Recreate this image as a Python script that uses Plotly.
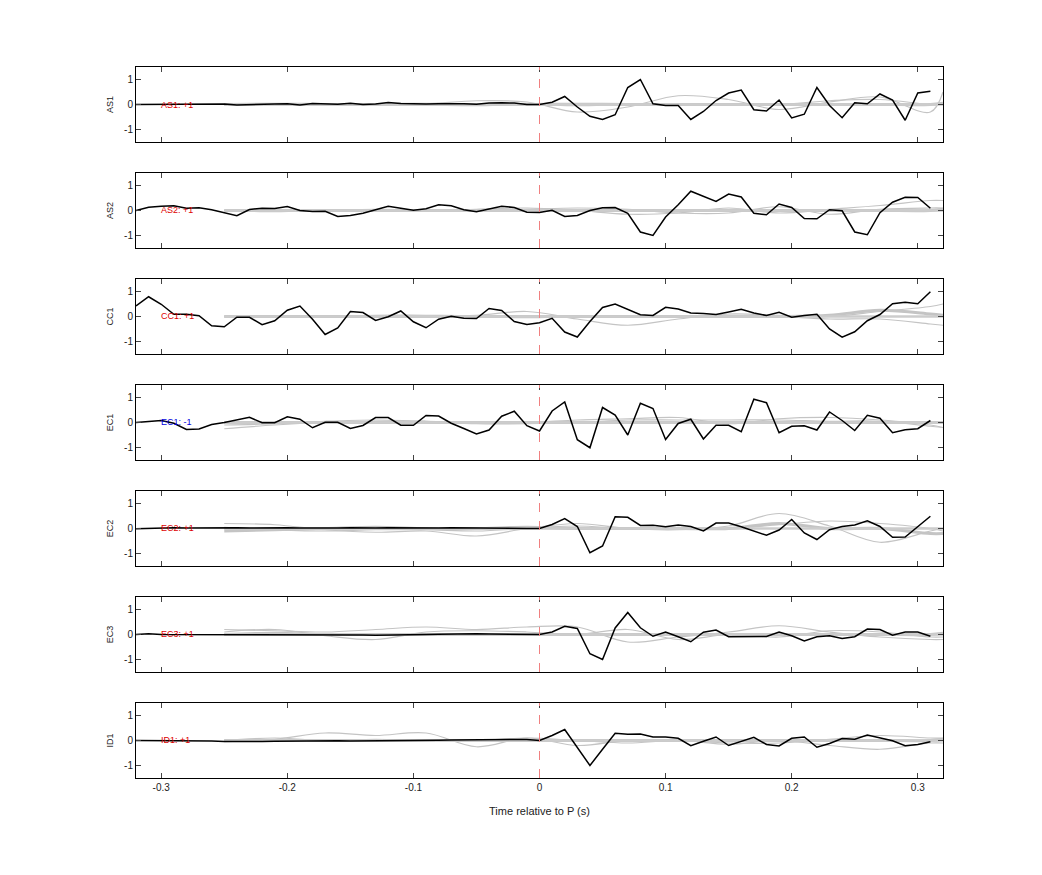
import numpy as np
import plotly.graph_objects as go
from plotly.subplots import make_subplots

stations = ["AS1", "AS2", "CC1", "EC1", "EC2", "EC3", "ID1"]
polarity = ["+1", "+1", "+1", "-1", "+1", "+1", "+1"]
t = [round(-0.32 + 0.01 * k, 2) for k in range(64)]

as1 = [0, 0, .03, .03, .03, .03, .02, .02, -.02, 0, .01, .02, .03, -.02, .04, .03, .01, .05, 0, .02, .08, .04, .02, .02, .03, .04, .03, .01, .06, .07, .06, 0,
       0, .09, .32, -.1, -.47, -.6, -.41, .68, 1.0, .03, -.04, -.04, -.6, -.28, .16, .46, .58, -.21, -.26, .18, -.54, -.39, .68, -.04, -.53, .07, .03, .42, .18, -.63, .46, .53]
as2 = [0, .13, .17, .19, .09, .11, .03, -.08, -.21, .04, .09, .08, .16, 0, -.04, -.03, -.24, -.20, -.11, .03, .17, .09, .01, .07, .23, .19, .03, -.05, .05, .17, .12, -.07,
       -.08, .01, -.24, -.20, 0, .11, .12, -.11, -.86, -1.0, -.26, .23, .77, .57, .36, .66, .54, -.11, -.17, .26, .12, -.32, -.33, .03, -.01, -.86, -.97, -.09, .33, .53, .52, .09]
cc1 = [.42, .79, .49, .09, .09, .03, -.37, -.41, -.03, -.03, -.33, -.17, .25, .42, -.11, -.72, -.46, .2, .16, -.16, -.01, .22, -.21, -.45, -.11, .01, -.07, -.08, .32, .24, -.2, -.32,
       -.25, -.07, -.62, -.82, -.2, .36, .5, .3, .07, .04, .37, .3, .14, .12, .08, .18, .29, .14, .04, .17, -.03, .04, .09, -.5, -.83, -.61, -.17, .08, .51, .57, .51, .99]
ec1 = [0, .04, .08, -.03, -.28, -.26, -.08, 0, .11, .21, -.01, -.01, .23, .13, -.21, .01, .01, -.24, -.12, .2, .2, -.11, -.11, .28, .26, -.03, -.24, -.46, -.3, .25, .45, -.13,
       -.34, .46, .82, -.69, -1.01, .6, .3, -.5, .77, .56, -.68, -.04, .13, -.66, -.11, -.11, -.37, .93, .79, -.41, -.15, -.13, -.3, .42, .08, -.32, .29, .17, -.41, -.29, -.25, .08]
ec2 = [-.01, 0, .04, .03, .02, .03, .04, .04, .03, .02, .03, .04, .03, .02, .01, .02, .02, .03, .01, .02, .03, .02, .01, 0, .02, .03, .02, .01, 0, .01, .01, 0,
       0, .16, .4, .08, -.97, -.7, .47, .45, .12, .13, .07, .14, .08, -.1, .22, .22, .07, -.1, -.27, -.06, .36, -.18, -.44, -.05, .08, .14, .31, .08, -.35, -.34, .08, .49]
ec3 = [0, .03, 0, 0, .01, 0, -.01, -.02, -.02, -.02, -.02, -.01, -.01, -.02, -.02, -.02, -.01, -.01, -.02, -.03, -.03, -.02, -.01, 0, .01, .02, .03, .03, .02, .01, -.01, -.01,
       0, .1, .33, .24, -.77, -1.0, .26, .88, .27, -.07, .1, -.09, -.29, .09, .18, -.09, -.09, -.08, -.08, .1, -.05, -.26, -.09, -.05, -.16, -.09, .22, .2, -.03, .1, .1, -.07]
id1 = [0, 0, 0, 0, .01, 0, -.02, -.04, -.05, -.05, -.04, -.03, -.02, -.02, -.01, -.01, -.01, -.02, -.02, -.01, -.01, -.01, -.01, -.01, .01, .02, .02, .01, .02, .03, .04, .04,
       0, .2, .44, -.29, -1.0, -.35, .29, .25, .26, .14, .14, .09, -.21, -.03, .14, -.2, -.03, .13, -.16, -.22, .09, .14, -.27, -.12, .08, .05, .22, .1, -.01, -.21, -.16, -.05]
black = [as1, as2, cc1, ec1, ec2, ec3, id1]

tg = [-0.25, -0.21, -0.17, -0.13, -0.09, -0.05, -0.01, 0.03, 0.07, 0.11, 0.15, 0.19, 0.23, 0.27, 0.31, 0.32]
gray = [
    [[0, 0, 0, 0, .02, .15, .1, -.3, -.1, .35, .2, -.2, .1, .3, -.3, .5],
     [0, 0, -.02, -.03, -.03, -.05, 0, -.05, 0, 0, 0, 0, .15, .2, 0, 0],
     [0, .01, 0, 0, .01, 0, 0, .01, 0, 0, 0, 0, 0, 0, 0, .05]],
    [[0, 0, 0, 0, 0, .05, .1, 0, -.15, -.1, .1, -.1, .05, .2, .4, .4],
     [0, -.05, 0, .05, .02, 0, .05, .1, .05, -.1, -.1, .15, -.15, .05, .1, .1],
     [0, 0, 0, 0, 0, 0, 0, 0, 0, 0, 0, 0, 0, 0, 0, .05]],
    [[0, 0, 0, .05, .05, .05, .2, -.1, -.35, -.1, .1, .05, 0, .2, .4, .5],
     [0, 0, 0, 0, 0, 0, -.05, 0, 0, 0, .05, 0, -.1, -.1, -.3, -.35],
     [0, 0, 0, 0, 0, 0, 0, 0, 0, 0, 0, 0, .05, .25, .1, .05]],
    [[-.25, -.1, 0, .05, .05, 0, 0, .1, .15, .2, -.05, .15, .2, .1, -.1, -.2],
     [-.1, -.05, .05, .1, .05, -.05, -.05, 0, .1, .1, .1, .1, .05, .05, -.15, -.2],
     [0, 0, 0, 0, 0, 0, 0, 0, 0, 0, 0, 0, 0, 0, 0, 0]],
    [[.2, .15, -.05, -.15, -.1, -.3, 0, .2, 0, -.05, .1, .6, .1, -.55, -.1, 0],
     [.05, -.05, -.1, -.05, -.05, -.1, 0, .1, 0, .05, 0, .15, .3, .2, 0, -.1],
     [-.1, -.05, 0, .05, 0, 0, .05, 0, 0, 0, 0, .2, 0, 0, -.2, -.2]],
    [[.2, .15, .1, .2, .3, .2, .3, .3, -.3, -.1, .1, .35, .1, -.1, -.2, -.2],
     [.1, .2, -.05, -.2, .1, .15, .1, 0, .2, -.2, 0, -.1, .15, .1, -.1, -.1],
     [0, .05, 0, 0, 0, 0, 0, 0, 0, 0, 0, 0, 0, 0, 0, .05]],
    [[-.05, .05, .3, .2, .3, -.25, .1, -.2, 0, 0, -.1, -.1, .05, .2, .1, .1],
     [0, .1, 0, .05, 0, 0, .1, 0, -.1, 0, -.15, 0, -.2, -.35, -.1, -.1],
     [0, 0, 0, 0, 0, 0, 0, 0, 0, 0, 0, 0, 0, 0, 0, .05]],
]

n = len(stations)
fig = make_subplots(rows=n, cols=1, shared_xaxes=False, vertical_spacing=0.0436)
for i in range(n):
    r = i + 1
    for j, g in enumerate(gray[i]):
        fig.add_trace(go.Scatter(x=tg, y=g, mode="lines",
                                 line=dict(color="#c4c4c4", width=3 if j == 2 else 1.2, shape="spline"),
                                 showlegend=False, hoverinfo="skip"), row=r, col=1)
    fig.add_trace(go.Scatter(x=[-0.25, 0.32], y=[0, 0], mode="lines",
                             line=dict(color="#cccccc", width=2.5), showlegend=False), row=r, col=1)
    fig.add_trace(go.Scatter(x=t, y=black[i], mode="lines", line=dict(color="black", width=1.5),
                             showlegend=False), row=r, col=1)
    fig.add_vline(x=0, line=dict(color="#f08080", width=1, dash="dash"), row=r, col=1)
    col = "#0000dd" if polarity[i] == "-1" else "#dd0000"
    fig.add_annotation(x=-0.302, y=0, text=f"{stations[i]}: {polarity[i]}", showarrow=False,
                       xanchor="left", yanchor="middle", font=dict(size=9, color=col), row=r, col=1)
    fig.update_yaxes(range=[-1.5, 1.5], tickvals=[-1, 0, 1], ticktext=["-1", "0", "1"],
                     title=dict(text=stations[i], font=dict(size=9), standoff=8),
                     ticks="inside", ticklen=5, showline=True, linecolor="black", linewidth=1,
                     mirror="ticks", showgrid=False, zeroline=False, tickfont=dict(size=10), row=r, col=1)
    fig.update_xaxes(range=[-0.32, 0.32], tickvals=[-0.3, -0.2, -0.1, 0, 0.1, 0.2, 0.3],
                     ticktext=["-0.3", "-0.2", "-0.1", "0", "0.1", "0.2", "0.3"],
                     showticklabels=(r == n), ticks="inside", ticklen=5, showline=True,
                     linecolor="black", linewidth=1, mirror="ticks", showgrid=False, zeroline=False,
                     tickfont=dict(size=10), row=r, col=1)
fig.update_xaxes(title=dict(text="Time relative to P (s)", font=dict(size=11)), row=n, col=1)
fig.update_layout(width=1042, height=875, margin=dict(l=128, r=107, t=59, b=105),
                  plot_bgcolor="white", paper_bgcolor="white",
                  font=dict(family="Liberation Sans, Arial, sans-serif", color="#222"))
fig.write_html("out.html")
